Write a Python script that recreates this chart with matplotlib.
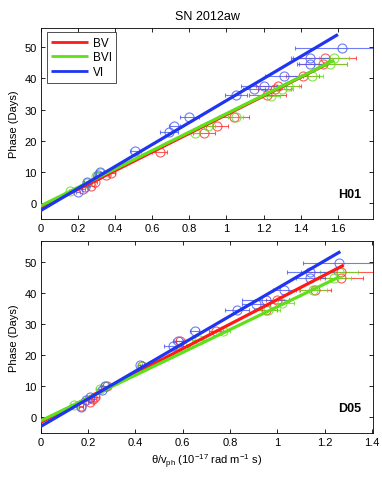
import matplotlib
matplotlib.use("Agg")
import matplotlib.pyplot as plt
import numpy as np

plt.rcParams['font.family'] = ['Liberation Sans', 'DejaVu Sans']
plt.rcParams['mathtext.fontset'] = 'custom'
plt.rcParams['mathtext.rm'] = 'Liberation Sans'
plt.rcParams['mathtext.it'] = 'Liberation Sans:italic'

# ---------------- Data ----------------
series_names = ["BV", "BVI", "VI"]
panel_labels = ["H01", "D05"]

# Panel H01
h01_bv_x = [0.23, 0.27, 0.29, 0.35, 0.38, 0.64, 0.88, 0.95, 1.04, 1.22, 1.26, 1.28, 1.41, 1.52, 1.53]
h01_bv_y = [4.5, 5.5, 6.7, 9.0, 9.8, 16.4, 22.5, 24.6, 27.7, 34.6, 36.6, 37.7, 40.8, 44.6, 46.6]
h01_bv_e = [0.01, 0.015, 0.015, 0.02, 0.02, 0.04, 0.06, 0.06, 0.08, 0.10, 0.09, 0.12, 0.09, 0.13, 0.17]

h01_bvi_x = [0.16, 0.25, 0.30, 0.32, 0.83, 0.90, 1.05, 1.24, 1.30, 1.33, 1.46, 1.56, 1.58]
h01_bvi_y = [4.0, 6.5, 8.8, 9.8, 22.6, 24.7, 27.7, 34.4, 36.6, 37.7, 40.8, 44.6, 46.6]
h01_bvi_e = [0.01, 0.015, 0.02, 0.02, 0.03, 0.04, 0.04, 0.05, 0.06, 0.06, 0.06, 0.09, 0.08]

h01_vi_x = [0.20, 0.24, 0.25, 0.31, 0.32, 0.51, 0.69, 0.72, 0.80, 1.05, 1.15, 1.20, 1.31, 1.45, 1.45, 1.62]
h01_vi_y = [3.7, 5.2, 6.8, 9.0, 9.9, 16.7, 22.7, 24.6, 27.7, 34.6, 36.6, 37.7, 40.8, 44.5, 46.6, 49.6]
h01_vi_e = [0.01, 0.015, 0.015, 0.02, 0.02, 0.03, 0.05, 0.03, 0.05, 0.06, 0.06, 0.12, 0.10, 0.07, 0.10, 0.25]

# Panel D05
d05_bv_x = [0.17, 0.21, 0.22, 0.23, 0.28, 0.43, 0.59, 0.74, 0.95, 1.00, 1.16, 1.27, 1.27]
d05_bv_y = [3.7, 4.8, 5.9, 6.5, 10.0, 16.6, 24.4, 27.8, 34.6, 37.6, 40.8, 44.8, 46.7]
d05_bv_e = [0.01, 0.01, 0.015, 0.015, 0.015, 0.01, 0.02, 0.03, 0.05, 0.05, 0.065, 0.09, 0.17]

d05_bvi_x = [0.14, 0.25, 0.27, 0.43, 0.60, 0.67, 0.77, 0.96, 1.02, 1.15, 1.24, 1.26]
d05_bvi_y = [4.0, 9.0, 10.0, 16.6, 22.5, 24.8, 27.8, 34.6, 36.8, 40.8, 44.6, 46.6]
d05_bvi_e = [0.01, 0.015, 0.015, 0.01, 0.03, 0.03, 0.03, 0.05, 0.05, 0.06, 0.07, 0.08]

d05_vi_x = [0.17, 0.19, 0.21, 0.26, 0.27, 0.42, 0.56, 0.58, 0.65, 0.83, 0.91, 0.95, 1.03, 1.14, 1.14, 1.26]
d05_vi_y = [3.5, 5.6, 6.7, 8.9, 10.0, 16.8, 23.0, 24.6, 27.8, 34.5, 36.4, 37.8, 40.8, 44.6, 46.6, 49.6]
d05_vi_e = [0.01, 0.01, 0.015, 0.015, 0.015, 0.01, 0.04, 0.02, 0.02, 0.05, 0.06, 0.10, 0.05, 0.06, 0.10, 0.15]

# Linear fits: intercept, slope, x-extent
h01_fit_intercept = [-1.5, -0.8, -2.3]
h01_fit_slope = [29.9, 29.5, 35.2]
h01_fit_xmax = [1.55, 1.58, 1.60]

d05_fit_intercept = [-1.6, -1.1, -2.9]
d05_fit_slope = [39.4, 36.6, 44.3]
d05_fit_xmax = [1.28, 1.26, 1.266]

h01_xticks = [0, 0.2, 0.4, 0.6, 0.8, 1, 1.2, 1.4, 1.6]
d05_xticks = [0, 0.2, 0.4, 0.6, 0.8, 1, 1.2, 1.4]
yticks = [0, 10, 20, 30, 40, 50]

# ---------------- Style ----------------
line_colors = ['#ff1a1a', '#5fe01a', '#1f35f0']
marker_colors = ['#ff3030', '#66dd22', '#4a5cf0']

fig = plt.figure(figsize=(3.82, 4.81), dpi=100)
ax1 = fig.add_axes([0.1065, 0.5426, 0.8705, 0.3964])
ax2 = fig.add_axes([0.1065, 0.0977, 0.8705, 0.3986])

panels = [
    (ax1, [(h01_bv_x, h01_bv_y, h01_bv_e), (h01_bvi_x, h01_bvi_y, h01_bvi_e), (h01_vi_x, h01_vi_y, h01_vi_e)],
     h01_fit_intercept, h01_fit_slope, h01_fit_xmax, h01_xticks, (0, 1.79), (-5, 56)),
    (ax2, [(d05_bv_x, d05_bv_y, d05_bv_e), (d05_bvi_x, d05_bvi_y, d05_bvi_e), (d05_vi_x, d05_vi_y, d05_vi_e)],
     d05_fit_intercept, d05_fit_slope, d05_fit_xmax, d05_xticks, (0, 1.405), (-5, 56.5)),
]

for idx, (ax, data, icpt, slope, xmax, xt, xl, yl) in enumerate(panels):
    for k, (x, y, e) in enumerate(data):
        ax.errorbar(x, y, xerr=e, fmt='o', mfc='none', mec=marker_colors[k], ms=6.5, mew=0.8,
                    ecolor=marker_colors[k], elinewidth=0.8, capsize=1.5, capthick=0.8,
                    alpha=0.8, zorder=2)
    for k in range(3):
        xs = np.array([0.0, xmax[k]])
        ax.plot(xs, icpt[k] + slope[k] * xs, color=line_colors[k], lw=2.3, zorder=3,
                label=series_names[k], solid_capstyle='butt')
    ax.set_xlim(*xl)
    ax.set_ylim(*yl)
    ax.set_xticks(xt)
    ax.set_xticklabels([f"{v:g}" for v in xt])
    ax.set_yticks(yticks)
    ax.tick_params(direction='in', top=True, right=True, labelsize=8, length=3, width=0.6, pad=3)
    for s in ax.spines.values():
        s.set_linewidth(0.6)
    ax.set_ylabel("Phase (Days)", fontsize=8, labelpad=4)
    ax.text(0.965, 0.10, panel_labels[idx], transform=ax.transAxes, ha='right', va='bottom',
            fontsize=9, fontweight='bold')

leg = ax1.legend(loc='upper left', bbox_to_anchor=(0.018, 0.979), borderaxespad=0.0,
                 fontsize=8.5, frameon=True, fancybox=False, edgecolor='black',
                 handlelength=3.1, labelspacing=0.2, borderpad=0.4, handletextpad=0.4)
leg.get_frame().set_linewidth(0.6)
for line in leg.get_lines():
    line.set_linewidth(2.0)

ax1.set_title("SN 2012aw", fontsize=9, pad=7)
ax2.set_xlabel(r"θ/v$_{\mathrm{ph}}$ (10$^{-17}$ rad m$^{-1}$ s)", fontsize=8, labelpad=3)

fig.savefig("out.png", dpi=100)
